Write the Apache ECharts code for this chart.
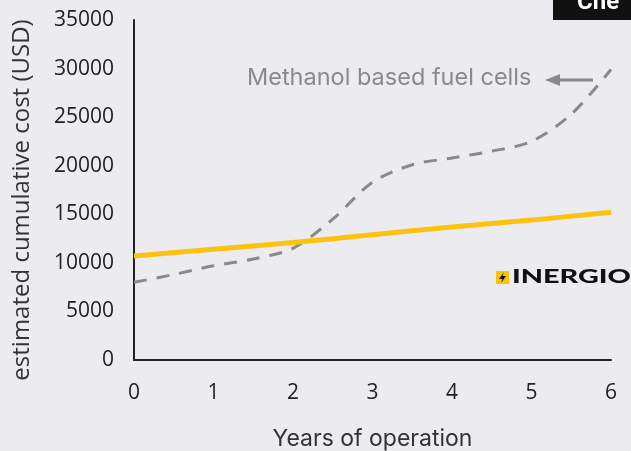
<!DOCTYPE html>
<html>
<head>
<meta charset="utf-8">
<script src="https://cdn.jsdelivr.net/npm/echarts@6/dist/echarts.min.js"></script>
<style>
  html, body { margin: 0; padding: 0; background: #ebebf0; }
  #chart { width: 631px; height: 451px; }
</style>
</head>
<body>
<div id="chart"></div>
<script>
var years = [0, 0.5, 1, 1.5, 2, 2.5, 3, 3.5, 4, 4.5, 5, 5.5, 6];
var methanol = [8000, 8800, 9700, 10400, 11500, 14500, 18300, 20100, 20800, 21500, 22500, 25300, 29900];
var inergioYears = [0, 1, 2, 3, 4, 5, 6];
var inergio = [10700, 11400, 12100, 12900, 13700, 14400, 15200];

function pairs(xs, ys) {
    return xs.map(function (x, i) { return [x, ys[i]]; });
}

var myChart = echarts.init(document.getElementById('chart'));

var option = {
    backgroundColor: '#ebebf0',
    animation: false,
    textStyle: { fontFamily: 'Open Sans' },
    grid: { left: 134, right: 20, top: 20, bottom: 91, outerBoundsMode: 'none' },
    xAxis: {
        type: 'value',
        min: 0,
        max: 6,
        interval: 1,
        name: 'Years of operation',
        nameLocation: 'middle',
        nameGap: 68,
        nameTextStyle: { fontSize: 23, color: '#333', fontFamily: 'Inter' },
        axisLine: { lineStyle: { color: '#222', width: 2 } },
        axisTick: { show: false },
        splitLine: { show: false },
        axisLabel: { fontSize: 21, color: '#222', margin: 23 }
    },
    yAxis: {
        type: 'value',
        min: 0,
        max: 35000,
        interval: 5000,
        axisLine: { show: true, lineStyle: { color: '#222', width: 2 } },
        axisTick: { show: false },
        splitLine: { show: false },
        axisLabel: {
            fontSize: 21, color: '#222', margin: 20,
            formatter: function (v) { return String(v); }
        }
    },
    series: [
        {
            name: 'Methanol based fuel cells',
            type: 'line',
            smooth: 0.3,
            showSymbol: false,
            data: pairs(years, methanol),
            lineStyle: { color: '#8a8a8a', width: 3, type: [13, 10] },
            z: 2
        },
        {
            name: 'INERGIO',
            type: 'line',
            smooth: true,
            showSymbol: false,
            data: pairs(inergioYears, inergio),
            lineStyle: { color: '#fdc10f', width: 5 },
            z: 3
        }
    ],
    graphic: [
        {
            type: 'text',
            x: 22,
            y: 200,
            rotation: Math.PI / 2,
            style: {
                text: 'estimated cumulative cost (USD)', fontSize: 24, fill: '#333',
                fontFamily: 'Open Sans', align: 'center', verticalAlign: 'middle'
            }
        },
        {
            type: 'text',
            x: 247,
            y: 66,
            style: { text: 'Methanol based fuel cells', fontSize: 23.5, fill: '#8a8a8a', fontFamily: 'Inter' }
        },
        {
            type: 'line',
            shape: { x1: 555, y1: 80, x2: 593, y2: 80 },
            style: { stroke: '#8a8a8a', lineWidth: 3 }
        },
        {
            type: 'polygon',
            shape: { points: [[545, 80], [560, 74], [560, 86]] },
            style: { fill: '#8a8a8a' }
        },
        {
            type: 'rect',
            shape: { x: 553, y: 0, width: 80, height: 20 },
            style: { fill: '#111' }
        },
        {
            type: 'text',
            x: 577,
            y: -9,
            style: { text: 'Che', fontSize: 24, fontWeight: 'bold', fill: '#fff', fontFamily: 'Roboto' }
        },
        {
            type: 'rect',
            shape: { x: 496, y: 271, width: 13, height: 13 },
            style: { fill: '#fdc10f' }
        },
        {
            type: 'polygon',
            shape: { points: [[504, 272], [499, 279], [502.5, 279], [501, 283], [506, 276], [502.5, 276]] },
            style: { fill: '#111' }
        },
        {
            type: 'text',
            x: 512,
            y: 268,
            scaleX: 1.6,
            style: { text: 'INERGIO', fontSize: 18, fontWeight: 900, fill: '#111', fontFamily: 'Lato' }
        }
    ]
};

myChart.setOption(option);
</script>
</body>
</html>
